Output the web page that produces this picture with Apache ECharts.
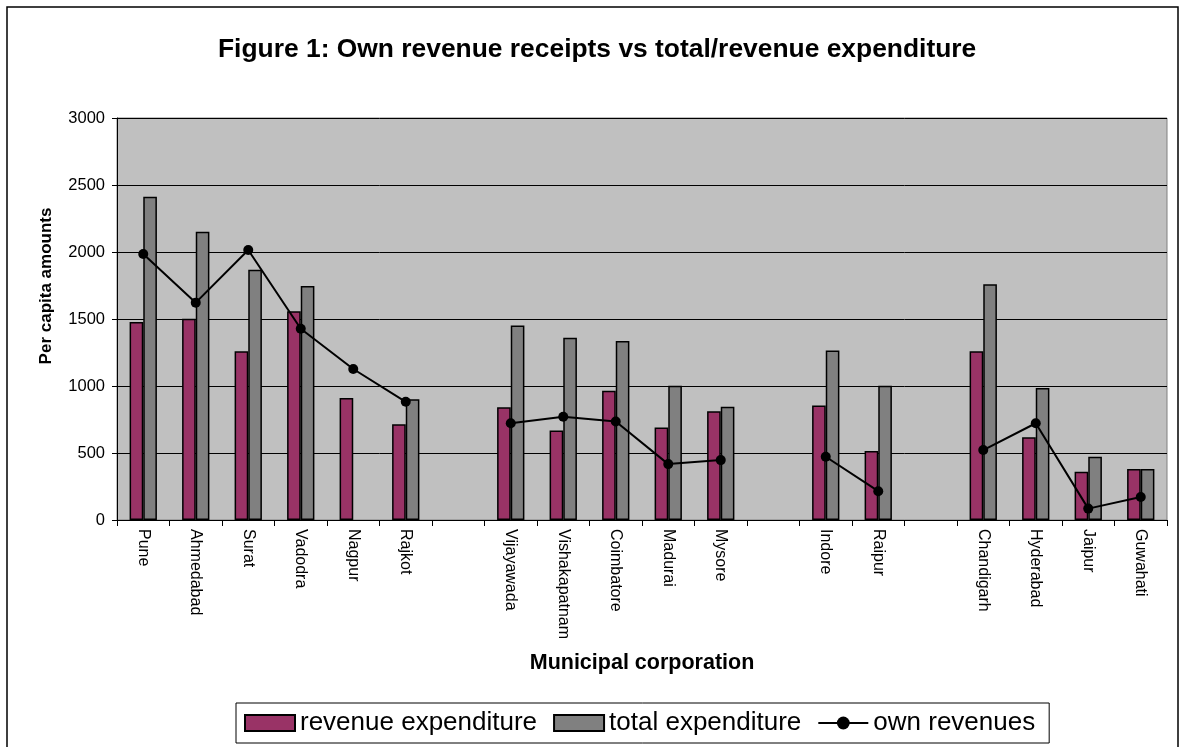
<!DOCTYPE html>
<html>
<head>
<meta charset="utf-8">
<script src="https://cdn.jsdelivr.net/npm/echarts@6/dist/echarts.min.js"></script>
<style>
html,body{margin:0;padding:0;background:#fff;}
#chart{width:1184px;height:747px;}
</style>
</head>
<body>
<div id="chart"></div>
<script>
const categories = ['Pune','Ahmedabad','Surat','Vadodra','Nagpur','Rajkot','','Vijayawada','Vishakapatnam','Coimbatore','Madurai','Mysore','','Indore','Raipur','','Chandigarh','Hyderabad','Jaipur','Guwahati'];
const revenueExpenditure = [1477,1502,1260,1557,910,715,'-',842,667,965,690,812,'-',855,515,'-',1260,617,360,380];
const totalExpenditure   = [2412,2152,1867,1747,'-',902,'-',1452,1360,1335,1002,845,'-',1265,1002,'-',1760,985,472,380];
const ownRevenues        = [1985,1622,2015,1427,1127,882,'-',722,770,735,417,447,'-',472,215,'-',522,722,85,172];
const yTicks = [0,500,1000,1500,2000,2500,3000];

const FONT = 'Liberation Sans, Arial, sans-serif';
const chart = echarts.init(document.getElementById('chart'), null, {renderer:'canvas'});
chart.setOption({
  backgroundColor:'#fff',
  animation:false,
  textStyle:{fontFamily:FONT},
  graphic:[
    {type:'rect',shape:{x:7,y:7,width:1171,height:760},style:{fill:'none',stroke:'#000',lineWidth:1.5},silent:true,z:-1},
    {type:'text',x:46,y:286,rotation:Math.PI/2,silent:true,
      style:{text:'Per capita amounts',font:'bold 17px Liberation Sans, Arial, sans-serif',fill:'#000',align:'center',verticalAlign:'middle'}}
  ],
  title:{text:'Figure 1: Own revenue receipts vs total/revenue expenditure',left:213,top:32,
    textStyle:{fontFamily:FONT,fontWeight:'bold',fontSize:26.4,color:'#000'}},
  legend:{left:236,top:703,orient:'horizontal',borderColor:'#000',borderWidth:1,padding:[7,14,7,8],itemGap:16,
    itemWidth:50,itemHeight:16,textStyle:{fontFamily:FONT,fontSize:26,color:'#000'},
    data:[{name:'revenue expenditure',icon:'rect'},{name:'total expenditure',icon:'rect'},{name:'own revenues'}]},
  grid:{left:117,right:17,top:118,bottom:227,show:true,backgroundColor:'#C0C0C0',borderColor:'#808080',borderWidth:1},
  xAxis:{type:'category',data:categories,boundaryGap:true,
    name:'Municipal corporation',nameLocation:'middle',nameGap:132,
    nameTextStyle:{fontFamily:FONT,fontWeight:'bold',fontSize:21.5,color:'#000'},
    axisLine:{lineStyle:{color:'#000',width:1}},
    axisTick:{show:true,interval:0,length:6,lineStyle:{color:'#000'}},
    axisLabel:{interval:0,rotate:-90,margin:9,fontFamily:FONT,fontSize:16,color:'#000'}},
  yAxis:{type:'value',min:0,max:3000,interval:500,
    axisLine:{show:true,lineStyle:{color:'#000'}},
    axisTick:{show:true,length:5,lineStyle:{color:'#000'}},
    axisLabel:{fontFamily:FONT,fontSize:16.5,color:'#000',margin:12,
      formatter:function(v){return yTicks.indexOf(v)>=0?String(v):'';}},
    splitLine:{show:true,lineStyle:{color:'#000',width:1}}},
  series:[
    {name:'revenue expenditure',type:'bar',data:revenueExpenditure,barGap:'0%',barCategoryGap:'48%',
      itemStyle:{color:'#993366',borderColor:'#000',borderWidth:1.5}},
    {name:'total expenditure',type:'bar',data:totalExpenditure,barGap:'0%',barCategoryGap:'48%',
      itemStyle:{color:'#808080',borderColor:'#000',borderWidth:1.5}},
    {name:'own revenues',type:'line',data:ownRevenues,connectNulls:false,symbol:'circle',symbolSize:10,
      lineStyle:{color:'#000',width:2},itemStyle:{color:'#000'},z:5}
  ]
});
</script>
</body>
</html>
